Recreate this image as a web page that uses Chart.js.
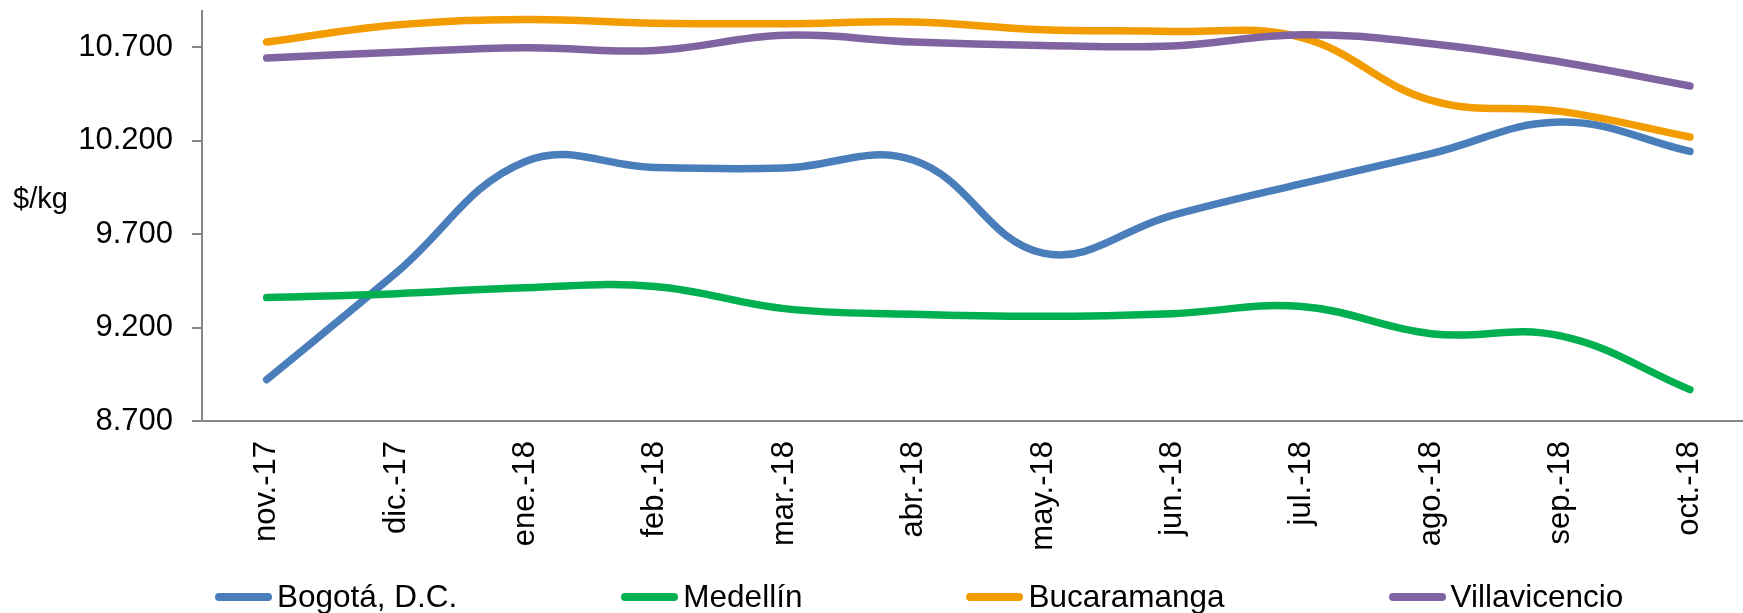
<!DOCTYPE html>
<html lang="es">
<head>
    <meta charset="UTF-8">
    <title>Precio $/kg por ciudad</title>
    <script src="https://cdn.jsdelivr.net/npm/chart.js"></script>
    <style>
        body { margin: 0; background: #fff; overflow: hidden; font-family: "Liberation Sans", Arial, sans-serif; }
        #wrap { position: relative; width: 1743px; height: 613px; }
        #legend {
            position: absolute; left: 215px; top: 578px;
            display: flex; align-items: center; column-gap: 164px;
            font-size: 31.5px; line-height: 37px; color: #000;
        }
        .item { display: flex; align-items: center; white-space: nowrap; }
        .swatch { width: 57px; height: 8px; border-radius: 4px; margin-right: 5px; }
    </style>
</head>
<body>
<div id="wrap">
    <canvas id="priceChart"></canvas>
    <div id="legend"></div>
</div>

<script>
    // months on the x axis
    const months = ['nov.-17', 'dic.-17', 'ene.-18', 'feb.-18', 'mar.-18', 'abr.-18',
                    'may.-18', 'jun.-18', 'jul.-18', 'ago.-18', 'sep.-18', 'oct.-18'];

    // $/kg per city
    const bogota        = [8921, 9492, 10088, 10056, 10053, 10095, 9598, 9800, 9970, 10130, 10299, 10142];
    const medellin      = [9360, 9381, 9413, 9420, 9301, 9271, 9260, 9274, 9312, 9167, 9155, 8868];
    const bucaramanga   = [10727, 10818, 10848, 10828, 10825, 10834, 10793, 10784, 10750, 10415, 10356, 10219];
    const villavicencio = [10641, 10673, 10697, 10682, 10763, 10727, 10709, 10706, 10766, 10718, 10620, 10492];

    const seriesNames  = ['Bogotá, D.C.', 'Medellín', 'Bucaramanga', 'Villavicencio'];
    const seriesColors = ['#4a7ebb', '#00b050', '#f39c00', '#8064a2'];
    const seriesValues = [bogota, medellin, bucaramanga, villavicencio];

    // y axis ticks
    const yTicks = [8700, 9200, 9700, 10200, 10700];
    const yMin = 8700;
    const yMax = 10893;

    function fmt(v) {
        const th = Math.floor(v / 1000);
        const rest = String(Math.round(v % 1000)).padStart(3, '0');
        return th + '.' + rest;
    }

    const font = "'Liberation Sans', Arial, sans-serif";
    const axisColor = '#868686';

    // "$/kg" sits horizontally left of the axis
    const unitLabel = {
        id: 'unitLabel',
        afterDraw(chart) {
            const ctx = chart.ctx;
            ctx.save();
            ctx.font = '29px ' + font;
            ctx.fillStyle = '#000';
            ctx.textBaseline = 'middle';
            ctx.textAlign = 'left';
            ctx.fillText('$/kg', 13, 200);
            ctx.restore();
        }
    };

    // no extra label padding, so the plot area lands where the original had it
    function noPad(scale) {
        scale.paddingTop = 0;
        scale.paddingBottom = 0;
        scale.paddingLeft = 0;
        scale.paddingRight = 0;
    }

    const datasets = seriesValues.map((vals, i) => ({
        label: seriesNames[i],
        data: vals.map((v, j) => ({ x: j, y: v })),
        borderColor: seriesColors[i],
        backgroundColor: seriesColors[i],
        borderWidth: 7.5,
        borderCapStyle: 'round',
        borderJoinStyle: 'round',
        pointRadius: 0,
        tension: 0.4,
        fill: false,
        order: seriesValues.length - i
    }));

    new Chart(document.getElementById('priceChart'), {
        type: 'line',
        data: { datasets: datasets },
        options: {
            responsive: true,
            maintainAspectRatio: false,
            animation: false,
            layout: { padding: { top: 11, right: 0, bottom: 0, left: 0 } },
            plugins: {
                legend: { display: false },
                tooltip: { enabled: false }
            },
            scales: {
                x: {
                    type: 'linear',
                    min: -0.5,
                    max: 11.41,
                    afterBuildTicks: (scale) => { scale.ticks = months.map((m, i) => ({ value: i })); },
                    afterFit: (scale) => { scale.height = 192; noPad(scale); },
                    grid: { display: false, drawTicks: false },
                    border: { display: true, color: axisColor, width: 2 },
                    ticks: {
                        autoSkip: false,
                        maxRotation: 90,
                        minRotation: 90,
                        padding: 20,
                        color: '#000',
                        font: { family: font, size: 31 },
                        callback: (v) => months[v]
                    }
                },
                y: {
                    min: yMin,
                    max: yMax,
                    afterBuildTicks: (scale) => { scale.ticks = yTicks.map(v => ({ value: v })); },
                    afterFit: (scale) => { scale.width = 202; noPad(scale); },
                    grid: {
                        display: true,
                        drawOnChartArea: false,
                        drawTicks: true,
                        tickLength: 10,
                        color: axisColor,
                        lineWidth: 2
                    },
                    border: { display: true, color: axisColor, width: 2 },
                    ticks: {
                        padding: 19,
                        color: '#000',
                        font: { family: font, size: 31 },
                        callback: (v) => fmt(v)
                    }
                }
            }
        },
        plugins: [unitLabel]
    });

    // legend below the plot
    const legend = document.getElementById('legend');
    seriesNames.forEach((name, i) => {
        const item = document.createElement('div');
        item.className = 'item';
        const sw = document.createElement('span');
        sw.className = 'swatch';
        sw.style.background = seriesColors[i];
        const txt = document.createElement('span');
        txt.textContent = name;
        item.appendChild(sw);
        item.appendChild(txt);
        legend.appendChild(item);
    });
</script>
</body>
</html>
